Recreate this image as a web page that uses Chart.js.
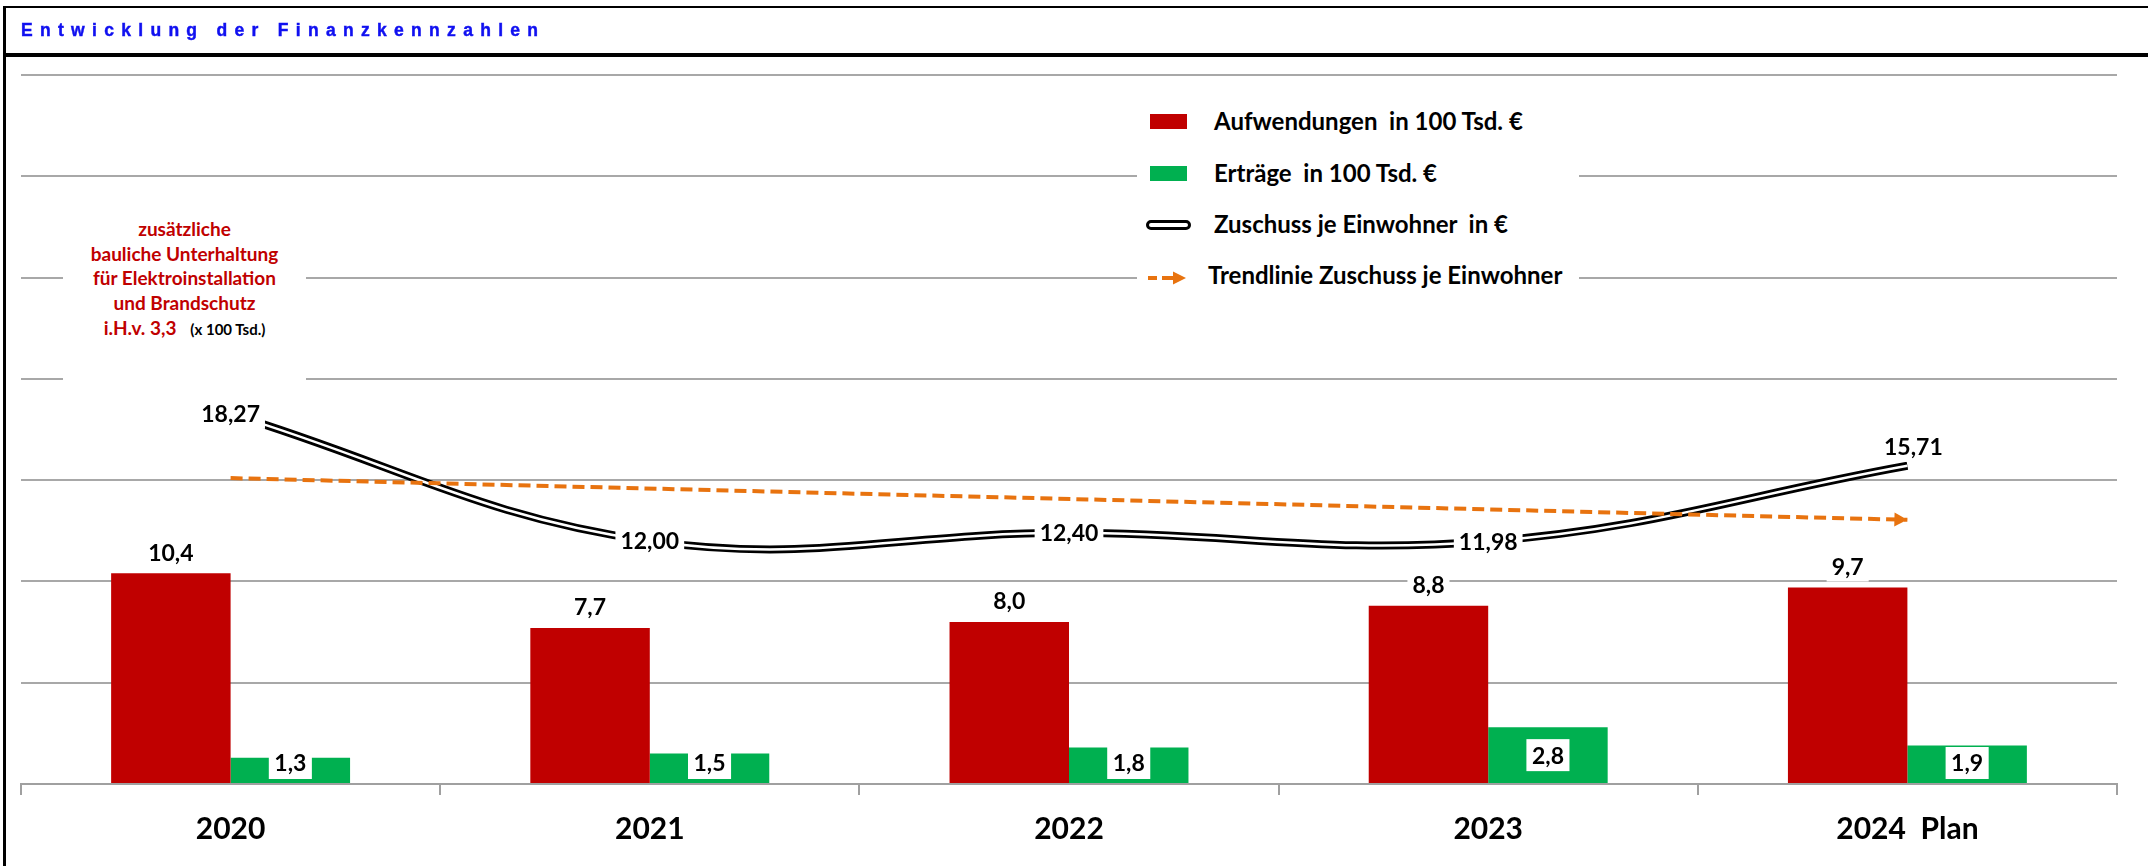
<!DOCTYPE html>
<html>
<head>
<meta charset="utf-8">
<script src="https://cdn.jsdelivr.net/npm/chart.js@4.4.1/dist/chart.umd.min.js"></script>
<style>
html,body{margin:0;padding:0;background:#fff;}
#wrap{position:relative;width:2148px;height:866px;overflow:hidden;background:#fff;}
#c{position:absolute;left:0;top:0;}
.ov{position:absolute;}
#bTop{left:4px;top:6px;width:2144px;height:2px;background:#000;}
#bHead{left:4px;top:53px;width:2144px;height:4px;background:#000;}
#bLeft{left:3px;top:6px;width:3px;height:860px;background:#000;}
#title{left:21px;top:20px;font:bold 17.5px "Liberation Sans",Arial,sans-serif;letter-spacing:7.3px;color:#1010F0;line-height:20px;white-space:nowrap;-webkit-text-stroke:0.45px #1010F0;}
#legend{left:1137px;top:92px;width:442px;height:208px;background:#fff;}
.lrow{position:absolute;height:30px;line-height:30px;font:bold 24px Lato,"Open Sans",sans-serif;color:#000;white-space:pre;}
.sw{position:absolute;}
#note{left:63px;top:196px;width:243px;height:196px;background:#fff;}
#noteText{position:absolute;left:0;top:21px;width:243px;text-align:center;font:bold 19px Lato,"Open Sans",sans-serif;color:#C00000;line-height:24.7px;white-space:nowrap;}
#noteText .blk{color:#000;font-size:15px;}
</style>
</head>
<body>
<div id="wrap">
  <canvas id="c" width="2148" height="866"></canvas>
  <div class="ov" id="bTop"></div>
  <div class="ov" id="bHead"></div>
  <div class="ov" id="bLeft"></div>
  <div class="ov" id="title">Entwicklung der Finanzkennzahlen</div>

  <div class="ov" id="note">
    <div id="noteText">zusätzliche<br>bauliche Unterhaltung<br>für Elektroinstallation<br>und Brandschutz<br>i.H.v. 3,3&nbsp;&nbsp;&nbsp;<span class="blk">(x 100 Tsd.)</span></div>
  </div>

  <div class="ov" id="legend">
    <div class="sw" style="left:13px;top:22px;width:37px;height:15px;background:#C00000;"></div>
    <div class="lrow" style="left:77px;top:13.5px;">Aufwendungen  in 100 Tsd. €</div>
    <div class="sw" style="left:13px;top:74px;width:37px;height:15px;background:#00B050;"></div>
    <div class="lrow" style="left:77px;top:66px;">Erträge  in 100 Tsd. €</div>
    <div class="sw" style="left:9px;top:128px;width:45px;height:10px;box-sizing:border-box;border:3px solid #000;border-radius:5px;background:#fff;"></div>
    <div class="lrow" style="left:77px;top:116.5px;">Zuschuss je Einwohner  in €</div>
    <svg class="sw" style="left:10px;top:178px;" width="42" height="16" viewBox="0 0 42 16">
      <line x1="1" y1="8" x2="10" y2="8" stroke="#E8730F" stroke-width="4"/>
      <line x1="15" y1="8" x2="30" y2="8" stroke="#E8730F" stroke-width="4"/>
      <polygon points="26,1.5 39,8 26,14.5" fill="#E8730F"/>
    </svg>
    <div class="lrow" style="left:71px;top:168px;">Trendlinie Zuschuss je Einwohner</div>
  </div>
</div>

<script>
// ---- data ----
const categories   = ['2020', '2021', '2022', '2023', '2024  Plan'];
const aufwendungen = [10.4, 7.7, 8.0, 8.8, 9.7];          // in 100 Tsd. €
const ertraege     = [1.3, 1.5, 1.8, 2.8, 1.9];           // in 100 Tsd. €
const zuschuss     = [18.27, 12.00, 12.40, 11.98, 15.71]; // je Einwohner in €
const trendZuschuss = [15.10, null, null, null, 13.04];   // Trendlinie (end points)
const yMin = 0, yMax = 35, yStep = 5;

Chart.defaults.font.family = 'Lato, "Open Sans", sans-serif';

const fmt = (v, d) => v.toFixed(d).replace('.', ',');

const labelPlugin = {
  id: 'valueLabels',
  afterDatasetsDraw(chart) {
    const ctx = chart.ctx;
    ctx.save();
    // arrow head on trend line
    chart.data.datasets.forEach((ds, i) => {
      if (!ds.arrowHead) return;
      const pts = chart.getDatasetMeta(i).data.filter((p, j) => ds.data[j] != null);
      if (pts.length < 2) return;
      const a = pts[pts.length - 2], b = pts[pts.length - 1];
      const ang = Math.atan2(b.y - a.y, b.x - a.x);
      const L = 13, H = 7;
      ctx.fillStyle = ds.borderColor;
      ctx.beginPath();
      ctx.moveTo(b.x, b.y);
      ctx.lineTo(b.x - L * Math.cos(ang) + H * Math.sin(ang), b.y - L * Math.sin(ang) - H * Math.cos(ang));
      ctx.lineTo(b.x - L * Math.cos(ang) - H * Math.sin(ang), b.y - L * Math.sin(ang) + H * Math.cos(ang));
      ctx.closePath();
      ctx.fill();
    });
    // value labels
    chart.data.datasets.forEach((ds, i) => {
      const o = ds.valueLabel;
      if (!o) return;
      const meta = chart.getDatasetMeta(i);
      ctx.font = 'bold 23px Lato, "Open Sans", sans-serif';
      ctx.textAlign = 'center';
      ctx.textBaseline = 'middle';
      meta.data.forEach((el, j) => {
        const v = ds.data[j];
        if (v == null) return;
        const txt = fmt(v, o.decimals);
        const w = ctx.measureText(txt).width;
        let x = el.x, y;
        if (o.mode === 'above') y = el.y - 21;
        else if (o.mode === 'inside') y = Math.min((el.y + el.base) / 2, el.base - 20);
        else y = el.y;
        const off = (o.offsets && o.offsets[j]) || [0, 0];
        x += off[0]; y += off[1];
        ctx.fillStyle = '#fff';
        ctx.fillRect(x - w / 2 - o.padX, y - o.h / 2, w + 2 * o.padX, o.h);
        ctx.fillStyle = '#000';
        ctx.fillText(txt, x, y + 1);
      });
    });
    ctx.restore();
  }
};

new Chart(document.getElementById('c'), {
  type: 'bar',
  data: {
    labels: categories,
    datasets: [
      {
        type: 'line', label: 'Trendlinie Zuschuss je Einwohner', data: trendZuschuss,
        borderColor: '#E8730F', borderWidth: 4, borderDash: [12, 6], spanGaps: true,
        pointRadius: 0, tension: 0, order: 0, arrowHead: true
      },
      {
        type: 'line', label: 'Zuschuss je Einwohner in € (inner)', data: zuschuss,
        borderColor: '#ffffff', borderWidth: 2.5, pointRadius: 0, tension: 0.4,
        cubicInterpolationMode: 'default', order: 1
      },
      {
        type: 'line', label: 'Zuschuss je Einwohner in €', data: zuschuss,
        borderColor: '#000000', borderWidth: 8, pointRadius: 0, tension: 0.4,
        cubicInterpolationMode: 'default', borderJoinStyle: 'round', order: 2,
        valueLabel: { decimals: 2, mode: 'point', padX: 5, h: 30, offsets: { 4: [6, -19] } }
      },
      {
        label: 'Aufwendungen in 100 Tsd. €', data: aufwendungen,
        backgroundColor: '#C00000', order: 3,
        valueLabel: { decimals: 1, mode: 'above', padX: 5, h: 30 }
      },
      {
        label: 'Erträge in 100 Tsd. €', data: ertraege,
        backgroundColor: '#00B050', order: 3,
        valueLabel: { decimals: 1, mode: 'inside', padX: 5.5, h: 32 }
      }
    ]
  },
  options: {
    responsive: false,
    animation: false,
    events: [],
    devicePixelRatio: 1,
    layout: { padding: { left: 21, right: 31, top: 75, bottom: 3 } },
    datasets: { bar: { categoryPercentage: 0.57, barPercentage: 1.0 } },
    plugins: { legend: { display: false }, title: { display: false }, tooltip: { enabled: false } },
    scales: {
      x: {
        grid: { drawOnChartArea: false, drawTicks: true, tickLength: 11, color: '#a0a0a0', lineWidth: 2 },
        border: { display: true, color: '#a0a0a0', width: 2 },
        ticks: { color: '#000', font: { size: 30, weight: 'bold' }, padding: 16, maxRotation: 0 }
      },
      y: {
        min: yMin, max: yMax,
        ticks: { stepSize: yStep, display: false },
        grid: { color: '#a8a8a8', lineWidth: 2, drawTicks: false },
        border: { display: false },
        afterFit: s => { s.width = 0; }
      }
    }
  },
  plugins: [labelPlugin]
});
</script>
</body>
</html>
